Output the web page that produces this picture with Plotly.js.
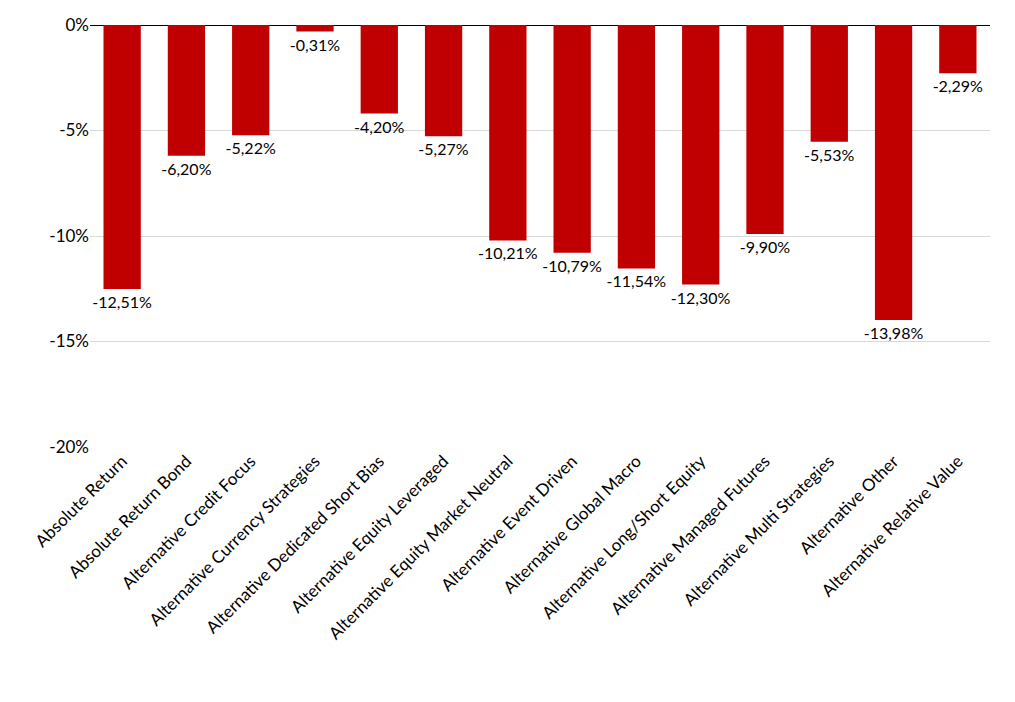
<!DOCTYPE html>
<html>
<head>
<script src="https://cdn.plot.ly/plotly-3.0.1.min.js"></script>
<style>body{margin:0;background:#fff}#chart{width:1015px;height:702px}</style>
</head>
<body>
<div id="chart"></div>
<script>
const categories = ["Absolute Return", "Absolute Return Bond", "Alternative Credit Focus",
  "Alternative Currency Strategies", "Alternative Dedicated Short Bias",
  "Alternative Equity Leveraged", "Alternative Equity Market Neutral",
  "Alternative Event Driven", "Alternative Global Macro", "Alternative Long/Short Equity",
  "Alternative Managed Futures", "Alternative Multi Strategies", "Alternative Other",
  "Alternative Relative Value"];
const values = [-12.51, -6.20, -5.22, -0.31, -4.20, -5.27, -10.21, -10.79, -11.54, -12.30, -9.90, -5.53, -13.98, -2.29];
const tickVals = [0, -5, -10, -15, -20];
const tickText = ["0%", "-5%", "-10%", "-15%", "-20%"];

const labels = values.map(v => v.toFixed(2).replace(".", ",") + "%");

Plotly.newPlot("chart", [{
  type: "bar",
  x: categories,
  y: values,
  text: labels,
  textposition: "outside",
  constraintext: "none",
  cliponaxis: false,
  textfont: {size: 16, color: "#000"},
  marker: {color: "#C00000"},
  hoverinfo: "none"
}], {
  width: 1015, height: 702,
  margin: {l: 90, r: 25, t: 25, b: 255},
  bargap: 0.42,
  font: {family: "Lato, 'Noto Sans', sans-serif", size: 17, color: "#000"},
  plot_bgcolor: "#fff", paper_bgcolor: "#fff",
  showlegend: false,
  xaxis: {tickangle: -45, showgrid: false, ticks: "", showline: false, tickfont: {size: 17}},
  yaxis: {range: [-20, 0], tickvals: tickVals, ticktext: tickText, gridcolor: "#d9d9d9",
          zeroline: true, zerolinecolor: "#000", zerolinewidth: 1, ticks: "", tickfont: {size: 17}}
}, {displayModeBar: false});
</script>
</body>
</html>
